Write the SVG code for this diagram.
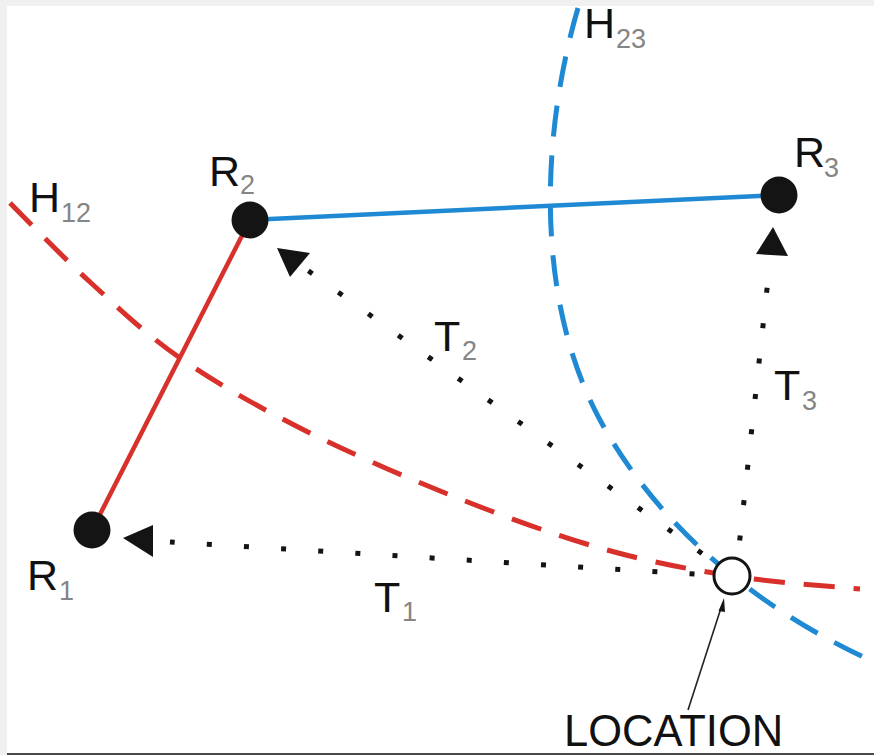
<svg xmlns="http://www.w3.org/2000/svg" width="874" height="755" viewBox="0 0 874 755">
<style>
.lbl{font-family:"Liberation Sans",Arial,sans-serif;font-size:43px;fill:#111}
.sub{font-family:"Liberation Sans",Arial,sans-serif;font-size:27px;fill:#858585}
.node{fill:#141414}
.solidB{stroke:#1f8ad3;stroke-width:4.5;fill:none}
.solidR{stroke:#d8302a;stroke-width:4.5;fill:none}
.dashB{stroke:#1f8ad3;stroke-width:5;fill:none;stroke-dasharray:31 19}
.dashR{stroke:#d8302a;stroke-width:5;fill:none;stroke-dasharray:31 19}
.dots{stroke:#141414;stroke-width:5;fill:none}
.head{fill:#141414}
</style>
<rect x="0" y="0" width="874" height="755" fill="#f0f0f0"/>
<rect x="7" y="6" width="867" height="747" fill="#ffffff"/>
<rect x="7" y="753" width="867" height="2" fill="#4a4a4a"/>

<g id="connectors">
  <path id="H23-curve" class="dashB" d="M578,8 C545,120 530,290 600,420 C660,530 760,610 874,662"/>
  <path id="H12-curve" class="dashR" d="M10,203 C23.3,216.2 61.7,256.2 90,282 C118.3,307.8 145,333.7 180,358 C215,382.3 255,405.2 300,428 C345,450.8 400,475 450,495 C500,515 553,534.5 600,548 C647,561.5 688.7,569.2 732,576 C775.3,582.8 838.7,586.8 860,589"/>
  <line id="R2-R3" class="solidB" x1="250" y1="220" x2="779" y2="195"/>
  <line id="R2-R1" class="solidR" x1="250" y1="220" x2="92" y2="530"/>
  <path id="T1-path" class="dots" d="M694.5,574.1 L170,541.9" stroke-dasharray="5 32.2"/>
  <polygon class="head" points="123,538 153,525 153,557"/>
  <path id="T2-path" class="dots" d="M702,553.5 L308.4,270.8" stroke-dasharray="5 31.9"/>
  <polygon class="head" points="277,248 310,253 290,277"/>
  <path id="T3-path" class="dots" d="M739.7,540.5 L767.2,287" stroke-dasharray="5 30.6"/>
  <polygon class="head" points="773,227 756,254 788,256"/>
  <line id="leader" x1="688" y1="710" x2="721" y2="608" stroke="#222" stroke-width="1.6"/>
  <polygon class="head" points="724,598 718.5,611 725,612"/>
</g>

<g id="R1">
  <circle class="node" cx="92" cy="530" r="18.5"/>
  <text class="lbl" x="27" y="590">R</text><text class="sub" x="59" y="600">1</text>
</g>
<g id="R2">
  <circle class="node" cx="250" cy="220" r="18.5"/>
  <text class="lbl" x="209" y="186">R</text><text class="sub" x="240" y="194">2</text>
</g>
<g id="R3">
  <circle class="node" cx="779" cy="195" r="18.5"/>
  <text class="lbl" x="794" y="167">R</text><text class="sub" x="824" y="177">3</text>
</g>
<g id="H12">
  <text class="lbl" x="29" y="212">H</text><text class="sub" x="61" y="222">12</text>
</g>
<g id="H23">
  <text class="lbl" x="584" y="38">H</text><text class="sub" x="616" y="48">23</text>
</g>
<g id="T1">
  <text class="lbl" x="374" y="612">T</text><text class="sub" x="402" y="621">1</text>
</g>
<g id="T2">
  <text class="lbl" x="434" y="351">T</text><text class="sub" x="462" y="360">2</text>
</g>
<g id="T3">
  <text class="lbl" x="774" y="400">T</text><text class="sub" x="802" y="410">3</text>
</g>
<g id="location">
  <circle cx="732" cy="576" r="18" fill="#ffffff" stroke="#141414" stroke-width="3"/>
  <text class="lbl" x="564" y="746" style="font-size:43.5px">LOCATION</text>
</g>
</svg>
